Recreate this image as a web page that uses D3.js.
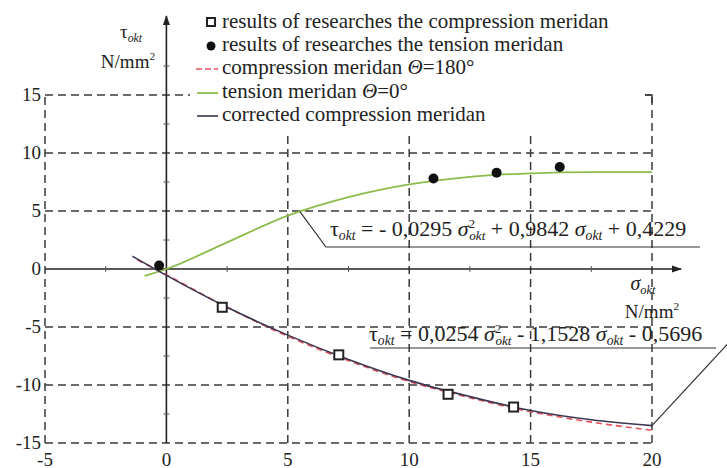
<!DOCTYPE html>
<html>
<head>
<meta charset="utf-8">
<script src="https://cdn.jsdelivr.net/npm/d3@7"></script>
<style>
  body { margin: 0; background: #fff; }
  svg { display: block; }
</style>
</head>
<body>
<svg id="chart"></svg>
<script>
// tick values
var xTicks = [-5, 0, 5, 10, 15, 20];
var yTicks = [-15, -10, -5, 0, 5, 10, 15];
var minorTicks = [-12.5, -7.5, -2.5, 2.5, 7.5, 12.5, 17.5];

// measured points
var compSigma = [2.3, 7.1, 11.6, 14.3];
var compTau = [-3.3, -7.4, -10.8, -11.9];
var tensSigma = [-0.3, 11.0, 13.6, 16.2];
var tensTau = [0.3, 7.8, 8.3, 8.8];

// curves
var theorySigma = [-1.2, 0, 2.5, 5, 7.5, 10, 12.5, 15, 17.5, 20];
var theoryComp = [0.8, -0.5, -3.3, -5.8, -7.9, -9.7, -11.1, -12.3, -13.2, -13.9];
var correctedSigma = [-1.4, 0, 2.5, 5, 7.5, 10, 12.5, 15, 17.5, 20];
var correctedComp = [1.1, -0.55, -3.3, -5.7, -7.8, -9.6, -11.0, -12.2, -13.0, -13.5];
var tensionSigma = [-0.9, 0, 2.5, 5, 7.5, 10, 12.5, 15, 17.5, 20];
var tensionTau = [-0.6, 0, 2.3, 4.6, 6.2, 7.3, 7.95, 8.25, 8.35, 8.35];

var legendLabels = [
  "results of researches the compression meridan",
  "results of researches the tension meridan",
  "compression meridan ",
  "tension meridan ",
  "corrected compression meridan"
];

var W = 727, H = 468;
var FONT = "'Liberation Serif', 'DejaVu Serif', serif";
var svg = d3.select("#chart").attr("width", W).attr("height", H)
  .style("font-family", FONT);

var x = d3.scaleLinear().domain([-5, 20]).range([45, 652]);
var y = d3.scaleLinear().domain([-15, 15]).range([443, 95]);

var gridColor = "#3a3a3a";
var dash = "8,5";

// grid
var grid = svg.append("g").attr("stroke", gridColor).attr("stroke-width", 1.5)
  .attr("stroke-dasharray", dash).attr("fill", "none");
grid.selectAll("line.h").data(yTicks.filter(function(d) { return d !== 0; }))
  .enter().append("line")
  .attr("x1", x(-5)).attr("x2", x(20))
  .attr("y1", function(d) { return y(d); }).attr("y2", function(d) { return y(d); });
grid.selectAll("line.v").data(xTicks.filter(function(d) { return d !== 0; }))
  .enter().append("line")
  .attr("y1", y(-15)).attr("y2", y(15))
  .attr("x1", function(d) { return x(d); }).attr("x2", function(d) { return x(d); });

// legend background hides the top of the grid
svg.append("rect").attr("x", 190).attr("y", 0).attr("width", 455).attr("height", 133).attr("fill", "#fff");
// small corner stub at the top right
svg.append("path").attr("d", "M" + (x(20) - 7) + "," + y(15) + "H" + x(20) + "V" + (y(15) + 8))
  .attr("stroke", gridColor).attr("stroke-width", 1.5).attr("fill", "none");

// axes with arrows
svg.append("defs").append("marker").attr("id", "arrow")
  .attr("viewBox", "0 0 10 10").attr("refX", 9).attr("refY", 5)
  .attr("markerWidth", 14).attr("markerHeight", 10).attr("markerUnits", "userSpaceOnUse")
  .attr("orient", "auto")
  .append("path").attr("d", "M0,1.5L10,5L0,8.5z").attr("fill", "#222");

svg.append("line").attr("x1", x(-5)).attr("x2", 681).attr("y1", y(0)).attr("y2", y(0))
  .attr("stroke", "#222").attr("stroke-width", 1.6).attr("marker-end", "url(#arrow)");
svg.append("line").attr("x1", x(0)).attr("x2", x(0)).attr("y1", y(-15)).attr("y2", 16)
  .attr("stroke", "#222").attr("stroke-width", 1.6).attr("marker-end", "url(#arrow)");

// minor ticks on axes
svg.selectAll("line.mx").data(minorTicks.filter(function(d) { return d > -5 && d < 20; }))
  .enter().append("line")
  .attr("x1", function(d) { return x(d); }).attr("x2", function(d) { return x(d); })
  .attr("y1", y(0) - 3).attr("y2", y(0) + 3).attr("stroke", "#555").attr("stroke-width", 1);
svg.selectAll("line.my").data(minorTicks)
  .enter().append("line")
  .attr("y1", function(d) { return y(d); }).attr("y2", function(d) { return y(d); })
  .attr("x1", x(0) - 3).attr("x2", x(0) + 3).attr("stroke", "#555").attr("stroke-width", 1);

// tick labels
svg.selectAll("text.yt").data(yTicks).enter().append("text")
  .attr("x", 41).attr("y", function(d) { return y(d) + 6; })
  .attr("text-anchor", "end").attr("font-size", 19).attr("fill", "#222")
  .text(function(d) { return d; });
svg.selectAll("text.xt").data(xTicks).enter().append("text")
  .attr("x", function(d) { return x(d); }).attr("y", 466)
  .attr("text-anchor", "middle").attr("font-size", 19).attr("fill", "#222")
  .text(function(d) { return d; });

// axis titles
var ty = svg.append("text").attr("x", 131).attr("y", 38).attr("text-anchor", "middle").attr("font-size", 19).attr("fill", "#222");
ty.append("tspan").text("τ");
ty.append("tspan").attr("font-size", "0.62em").attr("font-style", "italic").attr("dy", 4).text("okt");
svg.append("text").attr("x", 128).attr("y", 68).attr("text-anchor", "middle").attr("font-size", 19).attr("fill", "#222")
  .html('N/mm<tspan font-size="0.6em" dy="-8">2</tspan>');

var tx = svg.append("text").attr("x", 643).attr("y", 290).attr("text-anchor", "middle").attr("font-size", 20).attr("fill", "#222");
tx.append("tspan").attr("font-style", "italic").text("σ");
tx.append("tspan").attr("font-size", "0.62em").attr("font-style", "italic").attr("dy", 4).text("okt");
svg.append("text").attr("x", 652).attr("y", 318).attr("text-anchor", "middle").attr("font-size", 19).attr("fill", "#222")
  .html('N/mm<tspan font-size="0.6em" dy="-8">2</tspan>');

// curves
var line = d3.line().curve(d3.curveMonotoneX)
  .x(function(d) { return x(d[0]); }).y(function(d) { return y(d[1]); });

svg.append("path").datum(d3.zip(tensionSigma, tensionTau))
  .attr("d", line).attr("fill", "none").attr("stroke", "#8dbb4c").attr("stroke-width", 1.8);
svg.append("path").datum(d3.zip(theorySigma, theoryComp))
  .attr("d", line).attr("fill", "none").attr("stroke", "#e2525a").attr("stroke-width", 1.6)
  .attr("stroke-dasharray", "6,4");
svg.append("path").datum(d3.zip(correctedSigma, correctedComp))
  .attr("d", line).attr("fill", "none").attr("stroke", "#3c3550").attr("stroke-width", 1.6);

// measured points
svg.selectAll("rect.cp").data(d3.zip(compSigma, compTau)).enter().append("rect")
  .attr("x", function(d) { return x(d[0]) - 4.5; }).attr("y", function(d) { return y(d[1]) - 4.5; })
  .attr("width", 9).attr("height", 9).attr("fill", "#fff").attr("stroke", "#222").attr("stroke-width", 2);
svg.selectAll("circle.tp").data(d3.zip(tensSigma, tensTau)).enter().append("circle")
  .attr("cx", function(d) { return x(d[0]); }).attr("cy", function(d) { return y(d[1]); })
  .attr("r", 5).attr("fill", "#111");

// equation annotations
function eqText(g, parts) {
  parts.forEach(function(p) {
    var t = g.append("tspan").text(p.t);
    if (p.it) t.attr("font-style", "italic");
    if (p.fs) t.attr("font-size", p.fs);
    if (p.dy) t.attr("dy", p.dy);
    if (p.dx) t.attr("dx", p.dx);
  });
}
function fit(sel, width) {
  var fs = +sel.attr("font-size");
  var w = sel.node().getComputedTextLength();
  sel.attr("font-size", Math.min(22, fs * width / w));
}

var lead = svg.append("g").attr("stroke", "#333").attr("stroke-width", 1.2).attr("fill", "none");
lead.append("path").attr("d", "M" + x(5.5) + "," + y(4.95) + "L" + (x(5.5) + 26) + "," + 247 + "H" + 700);
lead.append("path").attr("d", "M" + 370 + "," + 348 + "H" + 716);
lead.append("path").attr("d", "M" + x(20) + "," + y(-13.5) + "L" + x(23.5) + "," + y(-5.6));

var eq1 = svg.append("text").attr("x", 330).attr("y", 236).attr("font-size", 20).attr("fill", "#222");
eqText(eq1, [
  {t: "τ"}, {t: "okt", it: true, fs: "0.62em", dy: 4},
  {t: " = - 0,0295 ", dy: -4}, {t: "σ", it: true},
  {t: "2", fs: "0.6em", dy: -8}, {t: "okt", it: true, fs: "0.6em", dy: 12, dx: -6},
  {t: " + 0,9842 ", dy: -4}, {t: "σ", it: true}, {t: "okt", it: true, fs: "0.62em", dy: 4},
  {t: " + 0,4229", dy: -4}
]);
fit(eq1, 363);

var eq2 = svg.append("text").attr("x", 369).attr("y", 341).attr("font-size", 20).attr("fill", "#222");
eqText(eq2, [
  {t: "τ"}, {t: "okt", it: true, fs: "0.62em", dy: 4},
  {t: " = 0,0254 ", dy: -4}, {t: "σ", it: true},
  {t: "2", fs: "0.6em", dy: -8}, {t: "okt", it: true, fs: "0.6em", dy: 12, dx: -6},
  {t: " - 1,1528  ", dy: -4}, {t: "σ", it: true}, {t: "okt", it: true, fs: "0.62em", dy: 4},
  {t: " - 0,5696", dy: -4}
]);
fit(eq2, 343);

// legend
var rows = [22, 45, 68, 92, 115];
var lg = svg.append("g");
var items = lg.selectAll("text.lg").data(legendLabels).enter().append("text")
  .attr("x", 222).attr("y", function(d, i) { return rows[i] + 6; })
  .attr("font-size", 19).attr("fill", "#222")
  .text(function(d) { return d; });
items.filter(function(d, i) { return i === 2; }).call(function(s) {
  s.append("tspan").attr("font-style", "italic").text("Θ");
  s.append("tspan").text("=180°");
});
items.filter(function(d, i) { return i === 3; }).call(function(s) {
  s.append("tspan").attr("font-style", "italic").text("Θ");
  s.append("tspan").text("=0°");
});
var first = d3.select(items.nodes()[0]);
var lfs = 19 * 405 / first.node().getComputedTextLength();
items.attr("font-size", Math.min(21, lfs));

lg.append("rect").attr("x", 207).attr("y", rows[0] - 4).attr("width", 8).attr("height", 8)
  .attr("fill", "#fff").attr("stroke", "#222").attr("stroke-width", 2);
lg.append("circle").attr("cx", 211).attr("cy", rows[1] + 1).attr("r", 4.5).attr("fill", "#111");
lg.append("line").attr("x1", 196).attr("x2", 218).attr("y1", rows[2] + 1).attr("y2", rows[2] + 1)
  .attr("stroke", "#e2525a").attr("stroke-width", 1.6).attr("stroke-dasharray", "6,3");
lg.append("line").attr("x1", 197).attr("x2", 218).attr("y1", rows[3] + 1).attr("y2", rows[3] + 1)
  .attr("stroke", "#8dbb4c").attr("stroke-width", 1.8);
lg.append("line").attr("x1", 197).attr("x2", 218).attr("y1", rows[4] + 1).attr("y2", rows[4] + 1)
  .attr("stroke", "#3c3550").attr("stroke-width", 1.6);
</script>
</body>
</html>
